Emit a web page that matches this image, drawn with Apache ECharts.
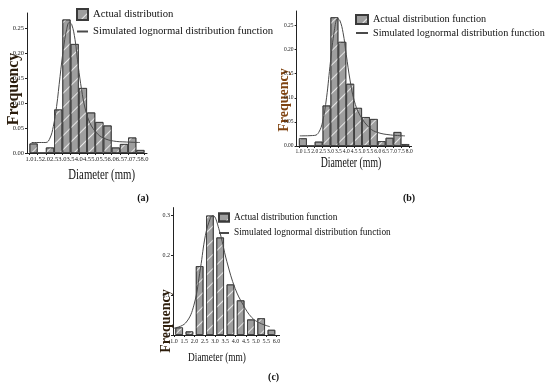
<!DOCTYPE html>
<html>
<head>
<meta charset="utf-8">
<script src="https://cdn.jsdelivr.net/npm/echarts@6/dist/echarts.min.js"></script>
<style>html,body{margin:0;padding:0;background:#fff}#c{width:550px;height:392px}</style>
</head>
<body>
<div id="c"></div>
<script>
// ---- data ----
var binCentersAB = [1.25,1.75,2.25,2.75,3.25,3.75,4.25,4.75,5.25,5.75,6.25,6.75,7.25,7.75];
var freqA = [0.019,0,0.011,0.087,0.267,0.218,0.130,0.081,0.062,0.055,0.011,0.018,0.031,0.006];
var freqB = [0.016,0,0.009,0.084,0.267,0.216,0.129,0.079,0.060,0.056,0.010,0.017,0.029,0.004];
var curveA = [[1.13,0.021],[2.0,0.021],[2.25,0.030],[2.45,0.053],[2.65,0.093],[2.86,0.153],[3.06,0.207],[3.26,0.247],[3.42,0.261],[3.57,0.257],[3.77,0.227],[3.97,0.173],[4.17,0.127],[4.38,0.090],[4.68,0.060],[5.09,0.040],[5.5,0.030],[6.1,0.024],[6.9,0.022],[7.72,0.021]];
var curveB = [[1.05,0.021],[2.0,0.022],[2.25,0.028],[2.5,0.050],[2.75,0.100],[3.0,0.175],[3.25,0.240],[3.45,0.264],[3.6,0.260],[3.8,0.235],[4.0,0.190],[4.24,0.137],[4.5,0.095],[4.87,0.064],[5.5,0.037],[6.0,0.028],[6.8,0.023],[7.73,0.021]];
var binCentersC = [1.25,1.75,2.25,2.75,3.25,3.75,4.25,4.75,5.25,5.75];
var freqC = [0.019,0.009,0.173,0.300,0.245,0.127,0.087,0.039,0.042,0.013];
var curveC = [[1.0,0.017],[1.56,0.030],[1.97,0.075],[2.29,0.168],[2.53,0.250],[2.77,0.293],[2.9,0.300],[3.18,0.268],[3.58,0.184],[3.98,0.117],[4.38,0.075],[4.79,0.044],[5.19,0.030],[5.67,0.021]];
var ticksAB = [1.0,1.5,2.0,2.5,3.0,3.5,4.0,4.5,5.0,5.5,6.0,6.5,7.0,7.5,8.0];
var ticksC = [1.0,1.5,2.0,2.5,3.0,3.5,4.0,4.5,5.0,5.5,6.0];
var nameActA = 'Actual distribution';
var nameAct = 'Actual distribution function';
var nameSim = 'Simulated lognormal distribution function';
var xTitle = 'Diameter (mm)';
var yTitle = 'Frequency';

function pairs(xs, ys){ return xs.map(function(x,i){ return [x, ys[i]]; }); }

var serif = 'Liberation Serif';
var barStyle = {
  color: '#9e9e9e', borderColor: '#3a3a3a', borderWidth: 0.8,
  decal: { symbol: 'rect', symbolSize: 1, dashArrayX: [1, 0], dashArrayY: [1, 9], rotation: -Math.PI / 4, color: 'rgba(255,255,255,0.75)' }
};
var lineStyle = { color: '#4a4a4a', width: 1 };

function xAx(gi, min, max, ticks, fs){
  return {
    type: 'value', gridIndex: gi, min: min, max: max,
    axisLine: { show: true, lineStyle: { color: '#222', width: 1 } },
    axisTick: { show: true, length: 2, customValues: ticks, lineStyle: { color: '#222' } },
    axisLabel: { customValues: ticks, fontFamily: serif, fontSize: fs, color: '#222', margin: 3,
      formatter: function(v){ return v.toFixed(1); } },
    splitLine: { show: false }
  };
}
function yAx(gi, max, interval, fs, fmt){
  return {
    type: 'value', gridIndex: gi, min: 0, max: max, interval: interval,
    axisLine: { show: true, lineStyle: { color: '#222', width: 1 } },
    axisTick: { show: true, length: 2, lineStyle: { color: '#222' } },
    axisLabel: { fontFamily: serif, fontSize: fs, color: '#222', margin: 3, showMaxLabel: false, formatter: fmt },
    splitLine: { show: false }
  };
}
function legendData(prefix, actName){
  return [
    { name: prefix + actName, icon: 'rect' },
    { name: prefix + nameSim, itemStyle: { opacity: 0 } }
  ];
}
function stripPrefix(n){ return n.split('|')[1]; }

var option = {
  animation: false,
  backgroundColor: '#fff',
  grid: [
    { left: 27, top: 13, width: 120, height: 140, outerBoundsMode: 'none' },
    { left: 296.6, top: 11, width: 115, height: 135, outerBoundsMode: 'none' },
    { left: 173, top: 207.6, width: 106.6, height: 127.4, outerBoundsMode: 'none' }
  ],
  xAxis: [
    xAx(0, 0.85, 8.15, ticksAB, 6.5),
    xAx(1, 0.85, 8.15, ticksAB, 5.5),
    xAx(2, 0.95, 6.15, ticksC, 6)
  ],
  yAxis: [
    yAx(0, 0.28, 0.05, 6.5, function(v){ return v.toFixed(2); }),
    yAx(1, 0.28, 0.05, 5.5, function(v){ return v.toFixed(2); }),
    yAx(2, 0.32, 0.1, 6, function(v){ return v === 0 ? '0' : v.toFixed(1); })
  ],
  legend: [
    { orient: 'vertical', left: 76, top: 8, padding: 0, itemWidth: 11, itemHeight: 11, itemGap: 5,
      data: legendData('a|', nameActA), formatter: stripPrefix,
      textStyle: { fontFamily: serif, fontSize: 10.7, color: '#111' }, selectedMode: false },
    { orient: 'vertical', left: 355, top: 14, padding: 0, itemWidth: 12, itemHeight: 9, itemGap: 3,
      data: legendData('b|', nameAct), formatter: stripPrefix,
      textStyle: { fontFamily: serif, fontSize: 10.2, color: '#111' }, selectedMode: false },
    { orient: 'vertical', left: 218, top: 212.5, padding: 0, itemWidth: 10, itemHeight: 8, itemGap: 6,
      data: legendData('c|', nameAct), formatter: stripPrefix,
      textStyle: { fontFamily: serif, fontSize: 9.3, color: '#111' }, selectedMode: false }
  ],
  series: [
    { name: 'a|' + nameActA, type: 'bar', xAxisIndex: 0, yAxisIndex: 0, barWidth: 8.2, data: pairs(binCentersAB, freqA), itemStyle: barStyle },
    { name: 'a|' + nameSim, type: 'line', xAxisIndex: 0, yAxisIndex: 0, smooth: 0.4, symbol: 'none', data: curveA, lineStyle: lineStyle, itemStyle: { color: '#4a4a4a' } },
    { name: 'b|' + nameAct, type: 'bar', xAxisIndex: 1, yAxisIndex: 1, barWidth: 7.9, data: pairs(binCentersAB, freqB), itemStyle: barStyle },
    { name: 'b|' + nameSim, type: 'line', xAxisIndex: 1, yAxisIndex: 1, smooth: 0.4, symbol: 'none', data: curveB, lineStyle: lineStyle, itemStyle: { color: '#4a4a4a' } },
    { name: 'c|' + nameAct, type: 'bar', xAxisIndex: 2, yAxisIndex: 2, barWidth: 7.6, data: pairs(binCentersC, freqC), itemStyle: barStyle },
    { name: 'c|' + nameSim, type: 'line', xAxisIndex: 2, yAxisIndex: 2, smooth: 0.4, symbol: 'none', data: curveC, lineStyle: lineStyle, itemStyle: { color: '#4a4a4a' } }
  ],
  graphic: [
    { type: 'text', x: 14, y: 89, rotation: Math.PI / 2, style: { text: yTitle, font: 'bold 16px "Liberation Serif"', fill: '#2a1c0c', textAlign: 'center', textVerticalAlign: 'middle' } },
    { type: 'text', x: 284, y: 100, rotation: Math.PI / 2, style: { text: yTitle, font: 'bold 14px "Liberation Serif"', fill: '#7f4310', textAlign: 'center', textVerticalAlign: 'middle' } },
    { type: 'text', x: 166, y: 321, rotation: Math.PI / 2, style: { text: yTitle, font: 'bold 14px "Liberation Serif"', fill: '#2e1e0c', textAlign: 'center', textVerticalAlign: 'middle' } },
    { type: 'text', x: 101.7, y: 175, scaleX: 0.77, style: { text: xTitle, font: '14px "Liberation Serif"', fill: '#111', textAlign: 'center', textVerticalAlign: 'middle' } },
    { type: 'text', x: 351, y: 163.3, scaleX: 0.7, style: { text: xTitle, font: '14px "Liberation Serif"', fill: '#111', textAlign: 'center', textVerticalAlign: 'middle' } },
    { type: 'text', x: 217, y: 358, scaleX: 0.72, style: { text: xTitle, font: '13px "Liberation Serif"', fill: '#111', textAlign: 'center', textVerticalAlign: 'middle' } },
    { type: 'text', x: 143, y: 198, style: { text: '(a)', font: 'bold 10px "Liberation Serif"', fill: '#111', textAlign: 'center', textVerticalAlign: 'middle' } },
    { type: 'text', x: 409, y: 198, style: { text: '(b)', font: 'bold 10px "Liberation Serif"', fill: '#111', textAlign: 'center', textVerticalAlign: 'middle' } },
    { type: 'text', x: 273.6, y: 377, style: { text: '(c)', font: 'bold 10px "Liberation Serif"', fill: '#111', textAlign: 'center', textVerticalAlign: 'middle' } }
  ]
};
var chart = echarts.init(document.getElementById('c'), null, { renderer: 'canvas' });
chart.setOption(option);
</script>
</body>
</html>
